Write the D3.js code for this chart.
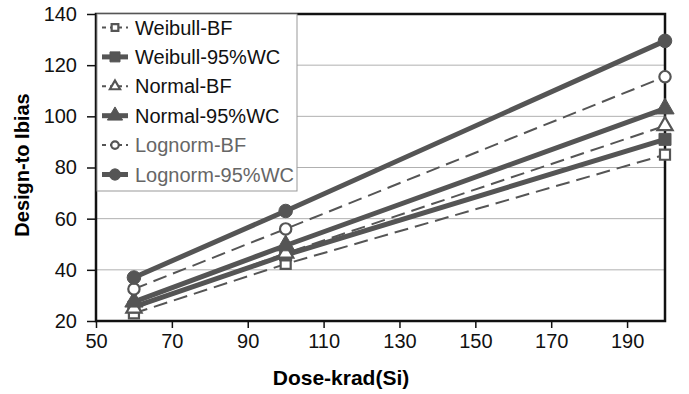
<!DOCTYPE html>
<html>
<head>
<meta charset="utf-8">
<style>
  body { margin: 0; background: #fff; font-family: Arial, "Liberation Sans", sans-serif; }
  .grid line { stroke: #b0b0b0; stroke-width: 1; }
  .axis text { font-size: 20px; fill: #111; }
</style>
<script src="https://cdn.jsdelivr.net/npm/d3@7"></script>
</head>
<body>
<script>
var dose = [60, 100, 200];
var weibullBF = [23, 42.3, 85];
var weibull95 = [25.5, 45.8, 91];
var normalBF = [25, 46.5, 96.3];
var normal95 = [27.5, 49.5, 103];
var lognormBF = [32.5, 56, 115.5];
var lognorm95 = [37, 63, 129.5];
var yTicks = [20, 40, 60, 80, 100, 120, 140];
var xTicks = [50, 70, 90, 110, 130, 150, 170, 190];

var series = [
  {name: "Weibull-BF", values: weibullBF, dashed: true, marker: "square", text: "#111"},
  {name: "Weibull-95%WC", values: weibull95, dashed: false, marker: "square", text: "#111"},
  {name: "Normal-BF", values: normalBF, dashed: true, marker: "triangle", text: "#111"},
  {name: "Normal-95%WC", values: normal95, dashed: false, marker: "triangle", text: "#111"},
  {name: "Lognorm-BF", values: lognormBF, dashed: true, marker: "circle", text: "#666"},
  {name: "Lognorm-95%WC", values: lognorm95, dashed: false, marker: "circle", text: "#666"}
];

var W = 689, H = 394;
var margin = {top: 14, right: 24, bottom: 73, left: 96};
var width = W - margin.left - margin.right;
var height = H - margin.top - margin.bottom;
var col = "#555";

var x = d3.scaleLinear().domain([50, 200]).range([0, width]);
var y = d3.scaleLinear().domain([20, 140]).range([height, 0]);

var svg = d3.select("body").append("svg")
  .attr("width", W).attr("height", H);
var g = svg.append("g")
  .attr("transform", "translate(" + margin.left + "," + margin.top + ")");

// grid
g.append("g").attr("class", "grid")
  .selectAll("line").data(yTicks).enter().append("line")
  .attr("x1", 0).attr("x2", width)
  .attr("y1", function(d){ return y(d); })
  .attr("y2", function(d){ return y(d); });

// axes
g.append("g").attr("class", "axis")
  .call(d3.axisLeft(y).tickValues(yTicks).tickSize(9).tickPadding(10).tickSizeOuter(0));
g.append("g").attr("class", "axis")
  .attr("transform", "translate(0," + height + ")")
  .call(d3.axisBottom(x).tickValues(xTicks).tickSize(7).tickPadding(6).tickSizeOuter(0));
g.selectAll(".axis .domain").remove();
g.selectAll(".axis line").attr("stroke", "#111").attr("stroke-width", 1.5);

// frame
g.append("rect")
  .attr("width", width).attr("height", height)
  .attr("fill", "none").attr("stroke", "#111").attr("stroke-width", 2.5);

function drawMarker(sel, type, filled, size) {
  var sym = type === "square" ? d3.symbolSquare : type === "triangle" ? d3.symbolTriangle : d3.symbolCircle;
  var area = filled ? size * size : size * size * 0.7;
  sel.append("path")
    .attr("d", d3.symbol().type(sym).size(area))
    .attr("fill", filled ? col : "#fff")
    .attr("stroke", col)
    .attr("stroke-width", filled ? 1 : 2.2);
}

var line = d3.line()
  .x(function(d, i){ return x(dose[i]); })
  .y(function(d){ return y(d); });

series.forEach(function(s) {
  g.append("path")
    .datum(s.values)
    .attr("d", line)
    .attr("fill", "none")
    .attr("stroke", col)
    .attr("stroke-width", s.dashed ? 2 : 5)
    .attr("stroke-dasharray", s.dashed ? "14,7" : null);
});
series.forEach(function(s) {
  s.values.forEach(function(v, i) {
    var m = g.append("g").attr("transform", "translate(" + x(dose[i]) + "," + y(v) + ")");
    drawMarker(m, s.marker, !s.dashed, 12);
  });
});

// legend
var leg = g.append("g").attr("transform", "translate(1,0)");
leg.append("rect")
  .attr("x", 0).attr("y", 0).attr("width", 200).attr("height", 177)
  .attr("fill", "#fff").attr("stroke", "#999").attr("stroke-width", 1);
series.forEach(function(s, i) {
  var row = leg.append("g").attr("transform", "translate(0," + (13.5 + i * 29.4) + ")");
  row.append("line")
    .attr("x1", 5).attr("x2", 31)
    .attr("stroke", col)
    .attr("stroke-width", s.dashed ? 2 : 5)
    .attr("stroke-dasharray", s.dashed ? "4,4" : null);
  var m = row.append("g").attr("transform", "translate(18,0)");
  drawMarker(m, s.marker, !s.dashed, s.dashed ? 8 : 10);
  row.append("text")
    .attr("x", 38).attr("dy", "0.35em")
    .attr("font-size", 20).attr("fill", s.text)
    .text(s.name);
});

// titles
svg.append("text")
  .attr("x", 341).attr("y", 385)
  .attr("text-anchor", "middle")
  .attr("font-size", 21).attr("font-weight", "bold")
  .text("Dose-krad(Si)");
svg.append("text")
  .attr("transform", "translate(29,165) rotate(-90)")
  .attr("text-anchor", "middle")
  .attr("font-size", 20).attr("font-weight", "bold")
  .text("Design-to Ibias");
</script>
</body>
</html>
